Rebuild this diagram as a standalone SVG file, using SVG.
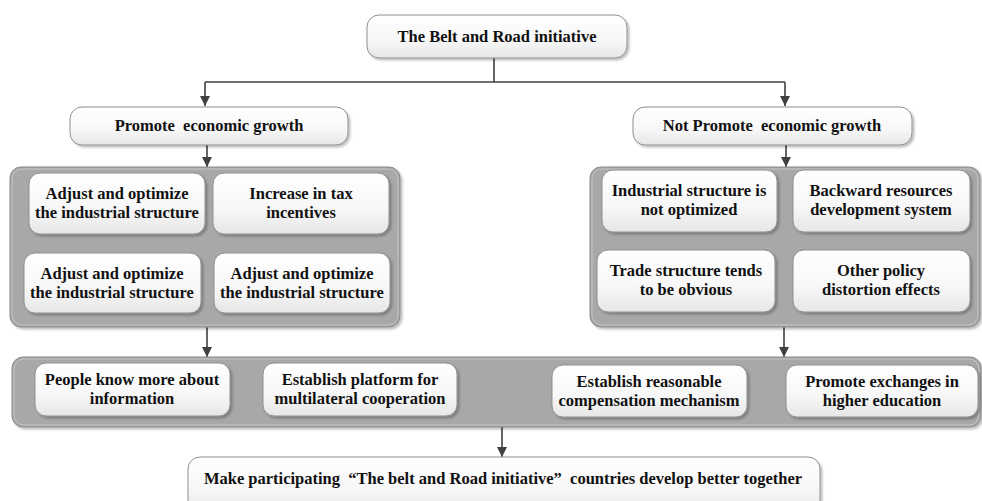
<svg xmlns="http://www.w3.org/2000/svg" width="982" height="501" viewBox="0 0 982 501">
  <defs>
    <linearGradient id="boxFill" x1="0" y1="0" x2="0" y2="1">
      <stop offset="0" stop-color="#ffffff"/>
      <stop offset="0.6" stop-color="#f7f7f7"/>
      <stop offset="1" stop-color="#e6e6e6"/>
    </linearGradient>
    <filter id="shadow" x="-5%" y="-10%" width="110%" height="125%">
      <feDropShadow dx="2" dy="2" stdDeviation="1.2" flood-color="#000" flood-opacity="0.25"/>
    </filter>
    <marker id="arrow" viewBox="0 0 10 10" refX="10" refY="5" markerWidth="10" markerHeight="10" markerUnits="userSpaceOnUse" orient="auto">
      <path d="M0,0 L10,5 L0,10 z" fill="#404040"/>
    </marker>
  </defs>
  <style>
    .box { fill: url(#boxFill); stroke: #8f8f8f; stroke-width: 1; filter: url(#shadow); }
    .panel { fill: #a8a8a8; stroke: #8a8a8a; stroke-width: 1; filter: url(#shadow); }
    .panel-in { fill: none; stroke: #c4c4c4; stroke-width: 1; }
    text { font-family: "Liberation Serif", serif; font-weight: bold; font-size: 16.5px; fill: #111; text-anchor: middle; white-space: pre; }
    .link { stroke: #404040; stroke-width: 1.6; fill: none; }
    .arr { marker-end: url(#arrow); }
  </style>
  <rect width="982" height="501" fill="#ffffff"/>

  <!-- connectors -->
  <g id="connectors">
    <path class="link" d="M494,57 V82 M205,82 H785"/>
    <path class="link arr" d="M205,82 V106"/>
    <path class="link arr" d="M785,82 V106"/>
    <path class="link arr" d="M207,145 V167"/>
    <path class="link arr" d="M786,145 V167"/>
    <path class="link arr" d="M207,327 V357"/>
    <path class="link arr" d="M784,327 V357"/>
    <path class="link arr" d="M502,427 V457"/>
  </g>

  <g id="root">
    <rect class="box" x="367" y="15" width="260" height="43" rx="12"/>
    <text x="497" y="42">The Belt and Road initiative</text>
  </g>

  <g id="promote">
    <rect class="box" x="70" y="107" width="278" height="38" rx="12"/>
    <text x="209" y="131">Promote  economic growth</text>
  </g>

  <g id="not-promote">
    <rect class="box" x="633" y="107" width="279" height="38" rx="12"/>
    <text x="772" y="131">Not Promote  economic growth</text>
  </g>

  <!-- left panel: positive effects -->
  <g id="promote-panel">
    <rect class="panel" x="10" y="167" width="390" height="160" rx="11"/>
    <rect class="panel-in" x="12" y="169" width="386" height="156" rx="10"/>
  </g>
  <g id="p1">
    <rect class="box" x="29" y="173" width="176" height="61" rx="11"/>
    <text x="117" y="199">Adjust and optimize</text>
    <text x="117" y="218">the industrial structure</text>
  </g>
  <g id="p2">
    <rect class="box" x="213" y="173" width="176" height="61" rx="11"/>
    <text x="301" y="199">Increase in tax</text>
    <text x="301" y="218">incentives</text>
  </g>
  <g id="p3">
    <rect class="box" x="24" y="253" width="177" height="60" rx="11"/>
    <text x="112" y="279">Adjust and optimize</text>
    <text x="112" y="298">the industrial structure</text>
  </g>
  <g id="p4">
    <rect class="box" x="214" y="253" width="176" height="60" rx="11"/>
    <text x="302" y="279">Adjust and optimize</text>
    <text x="302" y="298">the industrial structure</text>
  </g>

  <!-- right panel: negative effects -->
  <g id="not-promote-panel">
    <rect class="panel" x="590" y="167" width="390" height="160" rx="11"/>
    <rect class="panel-in" x="592" y="169" width="386" height="156" rx="10"/>
  </g>
  <g id="n1">
    <rect class="box" x="602" y="170" width="175" height="62" rx="11"/>
    <text x="689" y="196">Industrial structure is</text>
    <text x="689" y="215">not optimized</text>
  </g>
  <g id="n2">
    <rect class="box" x="793" y="170" width="177" height="62" rx="11"/>
    <text x="881" y="196">Backward resources</text>
    <text x="881" y="215">development system</text>
  </g>
  <g id="n3">
    <rect class="box" x="597" y="250" width="178" height="62" rx="11"/>
    <text x="686" y="276">Trade structure tends</text>
    <text x="686" y="295">to be obvious</text>
  </g>
  <g id="n4">
    <rect class="box" x="793" y="250" width="177" height="62" rx="11"/>
    <text x="881" y="276">Other policy</text>
    <text x="881" y="295">distortion effects</text>
  </g>

  <!-- measures band -->
  <g id="measures-panel">
    <rect class="panel" x="12" y="357" width="969" height="70" rx="11"/>
    <rect class="panel-in" x="14" y="359" width="965" height="66" rx="10"/>
  </g>
  <g id="m1">
    <rect class="box" x="35" y="363" width="195" height="53" rx="11"/>
    <text x="132" y="385">People know more about</text>
    <text x="132" y="404">information</text>
  </g>
  <g id="m2">
    <rect class="box" x="263" y="363" width="194" height="53" rx="11"/>
    <text x="360" y="385">Establish platform for</text>
    <text x="360" y="404">multilateral cooperation</text>
  </g>
  <g id="m3">
    <rect class="box" x="552" y="365" width="195" height="52" rx="11"/>
    <text x="649" y="387">Establish reasonable</text>
    <text x="649" y="406">compensation mechanism</text>
  </g>
  <g id="m4">
    <rect class="box" x="786" y="365" width="192" height="52" rx="11"/>
    <text x="882" y="387">Promote exchanges in</text>
    <text x="882" y="406">higher education</text>
  </g>

  <g id="outcome">
    <rect class="box" x="188" y="457" width="632" height="56" rx="12"/>
    <text x="503" y="484">Make participating  “The belt and Road initiative”  countries develop better together</text>
  </g>
</svg>
